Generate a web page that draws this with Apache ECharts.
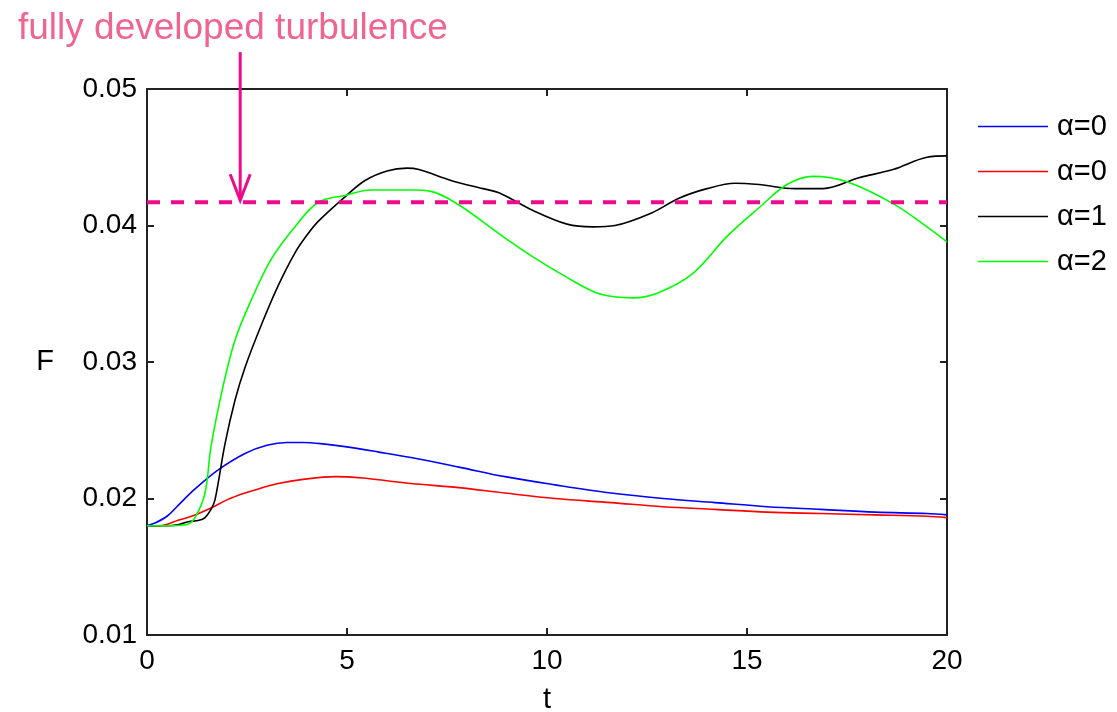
<!DOCTYPE html>
<html>
<head>
<meta charset="utf-8">
<script src="https://cdn.jsdelivr.net/npm/echarts@6/dist/echarts.min.js"></script>
<style>
html,body{margin:0;padding:0;background:#fff;}
#main{width:1117px;height:712px;}
</style>
</head>
<body>
<div id="main"></div>
<script>
// ---- data ----
const seriesNames = ['α=0', 'α=0 ', 'α=1', 'α=2'];
const seriesColors = ['#0000ff', '#ff0000', '#000000', '#00ff00'];

const blueT = [0, 0.2, 0.5, 0.78, 1.2, 1.78, 2.45, 3.0, 3.5, 3.9, 4.4, 4.95, 5.8, 6.6, 7.8, 8.95, 10.2, 11.6, 12.9, 14.2, 15.5, 16.85, 18.2, 19.5, 20];
const blueF = [0.0180, 0.0182, 0.0187, 0.0195, 0.0207, 0.0221, 0.0233, 0.0239, 0.0241, 0.0241, 0.0240, 0.0238, 0.0234, 0.0230, 0.0223, 0.0216, 0.0210, 0.0204, 0.0200, 0.0197, 0.0194, 0.0192, 0.0190, 0.0189, 0.0188];

const redT = [0, 0.3, 0.78, 1.2, 1.6, 2.0, 2.45, 2.9, 3.28, 3.9, 4.7, 5.4, 6.0, 6.6, 7.8, 8.95, 10.2, 11.6, 12.9, 14.2, 15.5, 16.85, 18.2, 19.5, 20];
const redF = [0.0180, 0.0180, 0.0184, 0.0188, 0.0193, 0.0199, 0.0204, 0.0208, 0.0211, 0.0214, 0.0216, 0.0215, 0.0213, 0.0211, 0.0208, 0.0204, 0.0200, 0.0197, 0.0194, 0.0192, 0.0190, 0.0189, 0.0188, 0.0187, 0.0186];

const blackT = [0, 0.5, 0.8, 1.03, 1.3, 1.45, 1.6, 1.7, 1.95, 2.2, 2.45, 2.87, 3.28, 3.7, 4.0, 4.28, 4.95, 5.45, 6.0, 6.5, 6.8, 7.6, 8.4, 8.8, 9.65, 10.5, 11.15, 11.7, 12.6, 13.3, 14.0, 14.7, 15.3, 16.2, 16.9, 17.8, 18.65, 19.5, 20];
const blackF = [0.0180, 0.0180, 0.0181, 0.0183, 0.0184, 0.0186, 0.0192, 0.0199, 0.0240, 0.0272, 0.0296, 0.0328, 0.0356, 0.0380, 0.0393, 0.0403, 0.0421, 0.0433, 0.0440, 0.0442, 0.0441, 0.0433, 0.0427, 0.0424, 0.0411, 0.0401, 0.0399, 0.0400, 0.0409, 0.0420, 0.0427, 0.0431, 0.0430, 0.0427, 0.0427, 0.0435, 0.0441, 0.0450, 0.0451];

const greenT = [0, 0.5, 1.0, 1.2, 1.45, 1.6, 1.9, 2.2, 2.6, 3.1, 3.7, 4.28, 4.95, 5.6, 6.6, 7.1, 7.8, 8.8, 9.65, 10.5, 11.3, 12.15, 12.8, 13.65, 14.5, 15.3, 16.0, 16.65, 17.5, 18.65, 19.5, 20];
const greenF = [0.0180, 0.0180, 0.0181, 0.0186, 0.0204, 0.0238, 0.0282, 0.0316, 0.0345, 0.0375, 0.0399, 0.0417, 0.0422, 0.0426, 0.0426, 0.0425, 0.0415, 0.0394, 0.0377, 0.0362, 0.0350, 0.0347, 0.0351, 0.0365, 0.0392, 0.0413, 0.0430, 0.0436, 0.0432, 0.0416, 0.0399, 0.0388];

const turbulenceF = 0.0417;
const arrowT = 2.33;
const arrowTopF = 0.0527;
const xTicks = [0, 5, 10, 15, 20];
const yTicks = [0.01, 0.02, 0.03, 0.04, 0.05];
const annotationText = 'fully developed turbulence';

// ---- build ----
function pairs(ts, fs) { return ts.map((t, i) => [t, fs[i]]); }
const allData = [pairs(blueT, blueF), pairs(redT, redF), pairs(blackT, blackF), pairs(greenT, greenF)];

const chart = echarts.init(document.getElementById('main'), null, {renderer: 'canvas'});
const axisColor = '#222';
const fontFam = '"Liberation Sans", Arial, Helvetica, sans-serif';

const series = allData.map((d, i) => ({
  name: seriesNames[i],
  type: 'line',
  data: d,
  smooth: 0.35,
  symbol: 'none',
  lineStyle: {color: seriesColors[i], width: 1.6},
  itemStyle: {color: seriesColors[i]},
  z: 3
}));
series.push({
  name: 'turb',
  type: 'line',
  data: [[xTicks[0], turbulenceF], [xTicks[xTicks.length - 1], turbulenceF]],
  symbol: 'none',
  lineStyle: {color: '#ee0a8c', width: 4, type: [13, 11]},
  z: 4,
  silent: true
});

const tickStyle = {show: true, inside: true, length: 7, lineStyle: {color: axisColor, width: 2}};
const lineStyleAx = {show: true, onZero: false, lineStyle: {color: axisColor, width: 2}};

const option = {
  backgroundColor: '#fff',
  animation: false,
  grid: {left: 147, right: 170, top: 89, bottom: 77, containLabel: false, outerBoundsMode: 'none'},
  legend: {
    data: seriesNames,
    orient: 'vertical',
    left: 978,
    top: 112,
    padding: 0,
    itemWidth: 70,
    itemHeight: 14,
    itemGap: 16,
    icon: 'path://M0,7 L70,7 L70,8.6 L0,8.6 Z',
    textStyle: {fontSize: 29, color: '#000', fontFamily: fontFam, padding: [0, 0, 0, 4]},
    selectedMode: false
  },
  xAxis: [{
    type: 'value', min: 0, max: 20, interval: 5,
    name: 't', nameLocation: 'middle', nameGap: 50,
    nameTextStyle: {fontSize: 29, color: '#000', fontFamily: fontFam},
    axisLine: lineStyleAx,
    axisTick: tickStyle,
    axisLabel: {fontSize: 28, color: '#000', fontFamily: fontFam, margin: 12},
    splitLine: {show: false}
  }, {
    type: 'value', min: 0, max: 20, interval: 5, position: 'top',
    axisLine: lineStyleAx,
    axisTick: tickStyle,
    axisLabel: {show: false},
    splitLine: {show: false}
  }],
  yAxis: [{
    type: 'value', min: 0.01, max: 0.05, interval: 0.01,
    name: 'F', nameLocation: 'middle', nameGap: 93, nameRotate: 0,
    nameTextStyle: {fontSize: 29, color: '#000', fontFamily: fontFam},
    axisLine: lineStyleAx,
    axisTick: tickStyle,
    axisLabel: {fontSize: 28, color: '#000', fontFamily: fontFam, margin: 10,
      formatter: v => v.toFixed(2)},
    splitLine: {show: false}
  }, {
    type: 'value', min: 0.01, max: 0.05, interval: 0.01, position: 'right',
    axisLine: lineStyleAx,
    axisTick: tickStyle,
    axisLabel: {show: false},
    splitLine: {show: false}
  }],
  series: series
};
chart.setOption(option);

// annotation arrow, positioned through the chart's scales
const pTop = chart.convertToPixel({gridIndex: 0}, [arrowT, arrowTopF]);
const pTip = chart.convertToPixel({gridIndex: 0}, [arrowT, turbulenceF]);
const headW = 10, headH = 28;
chart.setOption({
  graphic: [
    {
      type: 'text', left: 18, top: 10,
      style: {text: annotationText, fill: '#ef6490', font: '37px "Liberation Sans", Arial, sans-serif'}
    },
    {
      type: 'line', z: 10,
      shape: {x1: pTop[0], y1: pTop[1], x2: pTip[0], y2: pTip[1] - 2},
      style: {stroke: '#ee0a8c', lineWidth: 3}
    },
    {
      type: 'polyline', z: 10,
      shape: {points: [[pTip[0] - headW, pTip[1] - headH], [pTip[0], pTip[1] - 2], [pTip[0] + headW, pTip[1] - headH]]},
      style: {stroke: '#ee0a8c', lineWidth: 3, fill: null}
    }
  ]
});
</script>
</body>
</html>
